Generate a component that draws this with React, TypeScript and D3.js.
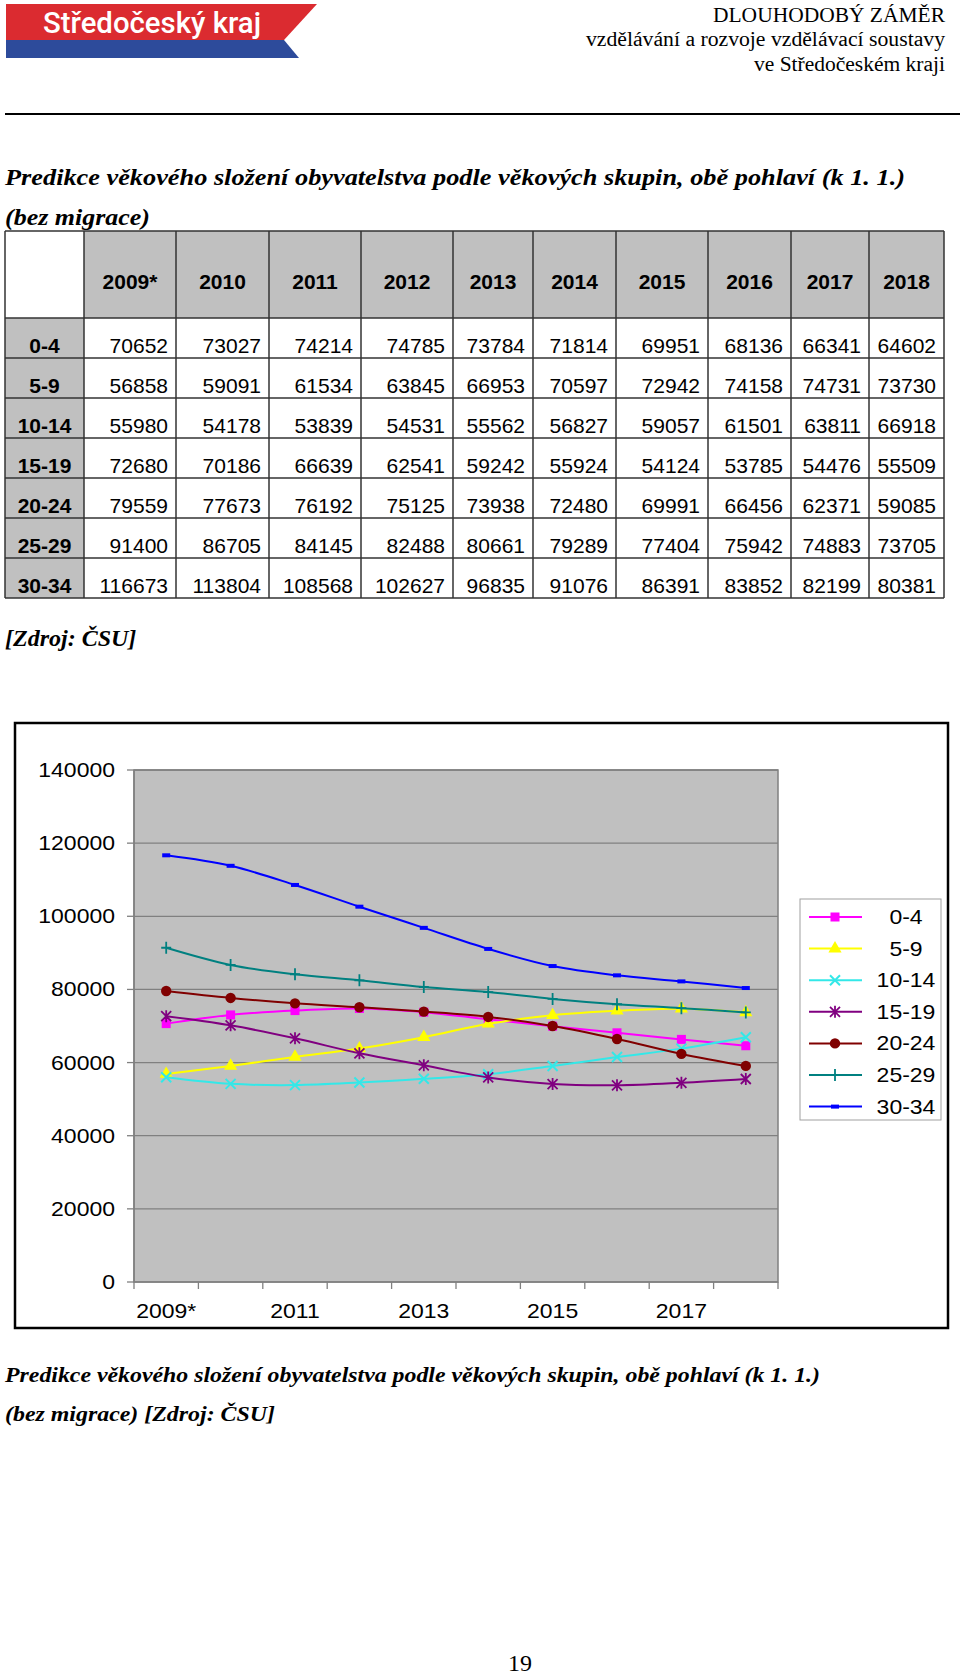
import React from 'react';
import * as d3 from 'd3';

// ---------- data ----------
const years = ['2009*', '2010', '2011', '2012', '2013', '2014', '2015', '2016', '2017', '2018'];
const groups = ['0-4', '5-9', '10-14', '15-19', '20-24', '25-29', '30-34'];

const age0_4 = [70652, 73027, 74214, 74785, 73784, 71814, 69951, 68136, 66341, 64602];
const age5_9 = [56858, 59091, 61534, 63845, 66953, 70597, 72942, 74158, 74731, 73730];
const age10_14 = [55980, 54178, 53839, 54531, 55562, 56827, 59057, 61501, 63811, 66918];
const age15_19 = [72680, 70186, 66639, 62541, 59242, 55924, 54124, 53785, 54476, 55509];
const age20_24 = [79559, 77673, 76192, 75125, 73938, 72480, 69991, 66456, 62371, 59085];
const age25_29 = [91400, 86705, 84145, 82488, 80661, 79289, 77404, 75942, 74883, 73705];
const age30_34 = [116673, 113804, 108568, 102627, 96835, 91076, 86391, 83852, 82199, 80381];

const seriesValues = [age0_4, age5_9, age10_14, age15_19, age20_24, age25_29, age30_34];
const seriesColors = ['#FF00FF', '#FFFF00', '#33E8E8', '#800080', '#800000', '#008080', '#0000FF'];
const seriesMarkers = ['square', 'triangle', 'x', 'star', 'circle', 'plus', 'dash'];

const xTickLabels = ['2009*', '2011', '2013', '2015', '2017'];
const yTicks = [0, 20000, 40000, 60000, 80000, 100000, 120000, 140000];

const titleText = 'Predikce věkového složení obyvatelstva podle věkových skupin, obě pohlaví (k 1. 1.)';

// ---------- layout ----------
const colX = [5, 84, 176, 269, 361, 453, 533, 616, 708, 791, 869, 944];
const tableTop = 231;
const headerBottom = 318;
const rowH = 40;

const plot = { left: 134, right: 778, top: 770, bottom: 1282 };
const legend = { x: 800, y: 899, w: 141, h: 221 };

const serif = "'Liberation Serif', 'Times New Roman', serif";
const sans = "'Liberation Sans', Arial, sans-serif";

function Marker({ type, color, x, y }: { type: string; color: string; x: number; y: number }) {
  const s = 5;
  switch (type) {
    case 'square':
      return <rect x={x - 4.5} y={y - 4.5} width={9} height={9} fill={color} />;
    case 'triangle':
      return <path d={d3.symbol(d3.symbolTriangle, 75)() as string} transform={`translate(${x},${y})`} fill={color} />;
    case 'x':
      return (
        <path d={`M${x - s},${y - s}L${x + s},${y + s}M${x - s},${y + s}L${x + s},${y - s}`} stroke={color} strokeWidth={2} fill="none" />
      );
    case 'star':
      return (
        <path
          d={`M${x - s},${y - s}L${x + s},${y + s}M${x - s},${y + s}L${x + s},${y - s}M${x},${y - s - 1}L${x},${y + s + 1}`}
          stroke={color}
          strokeWidth={1.8}
          fill="none"
        />
      );
    case 'circle':
      return <circle cx={x} cy={y} r={5.2} fill={color} />;
    case 'plus':
      return <path d={`M${x - s},${y}L${x + s},${y}M${x},${y - s - 1}L${x},${y + s + 1}`} stroke={color} strokeWidth={1.8} fill="none" />;
    case 'dash':
      return <rect x={x - 4} y={y - 2} width={8} height={4} fill={color} />;
    default:
      return null;
  }
}

function ChartText({ x, y, anchor, children }: { x: number; y: number; anchor: string; children: React.ReactNode }) {
  return (
    <text
      transform={`translate(${x},${y}) scale(1.15,1)`}
      textAnchor={anchor as any}
      fontFamily={sans}
      fontSize={20}
      fill="#000"
    >
      {children}
    </text>
  );
}

export default function App() {
  const x = d3.scaleBand<string>().domain(years).range([plot.left, plot.right]).paddingInner(0).paddingOuter(0);
  const y = d3.scaleLinear().domain([0, 140000]).range([plot.bottom, plot.top]);
  const line = d3
    .line<number>()
    .x((_, i) => (x(years[i]) as number) + x.bandwidth() / 2)
    .y((d) => y(d))
    .curve(d3.curveCatmullRom.alpha(0.5));

  const tickXs = years.map((yr) => x(yr) as number).concat([plot.right]);

  const tableRows = groups.map((g, r) => ({ g, vals: seriesValues[r], top: headerBottom + r * rowH }));
  const tableBottom = headerBottom + groups.length * rowH;

  return (
    <svg
      width={960}
      height={1676}
      viewBox="0 0 960 1676"
      style={{ position: 'absolute', left: 0, top: 0, background: '#fff' }}
    >
      <rect x={0} y={0} width={960} height={1676} fill="#fff" />

      {/* logo */}
      <polygon points="6,4 317,4 284,40 6,40" fill="#DB2B30" />
      <polygon points="6,40 284,40 299,58 6,58" fill="#2D4B9B" />
      <text
        x={43}
        y={33}
        fontFamily="'Liberation Sans Narrow', Roboto, sans-serif"
        fontWeight={500}
        fontSize={29}
        fill="#fff"
        textLength={218}
        lengthAdjust="spacingAndGlyphs"
      >
        Středočeský kraj
      </text>

      {/* header right */}
      <g fontFamily={serif} fontSize={20} fill="#000" textAnchor="end">
        <text x={945} y={22} textLength={232} lengthAdjust="spacingAndGlyphs">DLOUHODOBÝ ZÁMĚR</text>
        <text x={945} y={46} textLength={359} lengthAdjust="spacingAndGlyphs">vzdělávání a rozvoje vzdělávací soustavy</text>
        <text x={945} y={71} textLength={191} lengthAdjust="spacingAndGlyphs">ve Středočeském kraji</text>
      </g>
      <line x1={5} x2={960} y1={114} y2={114} stroke="#000" strokeWidth={2} />

      {/* title */}
      <g fontFamily={serif} fontSize={24} fontStyle="italic" fontWeight="bold" fill="#000">
        <text x={5} y={185} textLength={900} lengthAdjust="spacingAndGlyphs">{titleText}</text>
        <text x={5} y={225} textLength={145} lengthAdjust="spacingAndGlyphs">(bez migrace)</text>
      </g>

      {/* table */}
      <g>
        {years.map((yr, i) => (
          <rect key={'hc' + i} x={colX[i + 1]} y={tableTop} width={colX[i + 2] - colX[i + 1]} height={headerBottom - tableTop} fill="#C0C0C0" />
        ))}
        <rect x={colX[0]} y={headerBottom} width={colX[1] - colX[0]} height={tableBottom - headerBottom} fill="#C0C0C0" />
        {colX.map((cx, i) => (
          <line key={'v' + i} x1={cx} x2={cx} y1={tableTop} y2={tableBottom} stroke="#333" strokeWidth={1.5} />
        ))}
        {[tableTop, headerBottom, ...tableRows.map((r) => r.top + rowH)].map((ry, i) => (
          <line key={'h' + i} x1={colX[0]} x2={colX[colX.length - 1]} y1={ry} y2={ry} stroke="#333" strokeWidth={1.5} />
        ))}
        <g fontFamily={sans} fontSize={21} fontWeight="bold" textAnchor="middle" fill="#000">
          {years.map((yr, i) => (
            <text key={'yt' + i} x={(colX[i + 1] + colX[i + 2]) / 2} y={289}>{yr}</text>
          ))}
          {tableRows.map((r, i) => (
            <text key={'rl' + i} x={(colX[0] + colX[1]) / 2} y={r.top + 35}>{r.g}</text>
          ))}
        </g>
        <g fontFamily={sans} fontSize={21} textAnchor="end" fill="#000">
          {tableRows.map((r, ri) =>
            r.vals.map((v, ci) => (
              <text key={`c${ri}-${ci}`} x={colX[ci + 2] - 8} y={r.top + 35}>{v}</text>
            ))
          )}
        </g>
      </g>

      <text x={5} y={646} fontFamily={serif} fontSize={24} fontStyle="italic" fontWeight="bold">[Zdroj: ČSU]</text>

      {/* chart box */}
      <rect x={15} y={723} width={933} height={605} fill="#fff" stroke="#000" strokeWidth={2.5} />
      <rect x={plot.left} y={plot.top} width={plot.right - plot.left} height={plot.bottom - plot.top} fill="#C0C0C0" stroke="#808080" strokeWidth={1.5} />
      {yTicks.map((t) => (
        <g key={'yt' + t}>
          <line x1={plot.left} x2={plot.right} y1={y(t)} y2={y(t)} stroke="#808080" strokeWidth={1.3} />
          <line x1={plot.left - 7} x2={plot.left} y1={y(t)} y2={y(t)} stroke="#808080" strokeWidth={1.3} />
          <ChartText x={115} y={y(t) + 7} anchor="end">{t}</ChartText>
        </g>
      ))}
      <line x1={plot.left} x2={plot.left} y1={plot.top} y2={plot.bottom} stroke="#808080" strokeWidth={1.5} />
      {tickXs.map((tx, i) => (
        <line key={'xt' + i} x1={tx} x2={tx} y1={plot.bottom} y2={plot.bottom + 7} stroke="#808080" strokeWidth={1.3} />
      ))}
      {xTickLabels.map((lbl) => (
        <ChartText key={'xl' + lbl} x={(x(lbl) as number) + x.bandwidth() / 2} y={1318} anchor="middle">{lbl}</ChartText>
      ))}

      {/* series */}
      {seriesValues.map((vals, si) => (
        <g key={'s' + si}>
          <path d={line(vals) as string} fill="none" stroke={seriesColors[si]} strokeWidth={2} />
          {vals.map((v, i) => (
            <Marker key={i} type={seriesMarkers[si]} color={seriesColors[si]} x={(x(years[i]) as number) + x.bandwidth() / 2} y={y(v)} />
          ))}
        </g>
      ))}

      {/* legend */}
      <rect x={legend.x} y={legend.y} width={legend.w} height={legend.h} fill="#fff" stroke="#A0A0A0" strokeWidth={1} />
      {groups.map((g, i) => {
        const ly = 917 + i * 31.6;
        return (
          <g key={'lg' + i}>
            <line x1={809} x2={862} y1={ly} y2={ly} stroke={seriesColors[i]} strokeWidth={2} />
            <Marker type={seriesMarkers[i]} color={seriesColors[i]} x={835} y={ly} />
            <ChartText x={906} y={ly + 7} anchor="middle">{g}</ChartText>
          </g>
        );
      })}

      {/* caption */}
      <g fontFamily={serif} fontSize={22} fontStyle="italic" fontWeight="bold" fill="#000">
        <text x={5} y={1382} textLength={815} lengthAdjust="spacingAndGlyphs">{titleText}</text>
        <text x={5} y={1421} textLength={270} lengthAdjust="spacingAndGlyphs">(bez migrace) [Zdroj: ČSU]</text>
      </g>

      <text x={520} y={1671} textAnchor="middle" fontFamily={serif} fontSize={24} fill="#000">19</text>
    </svg>
  );
}
